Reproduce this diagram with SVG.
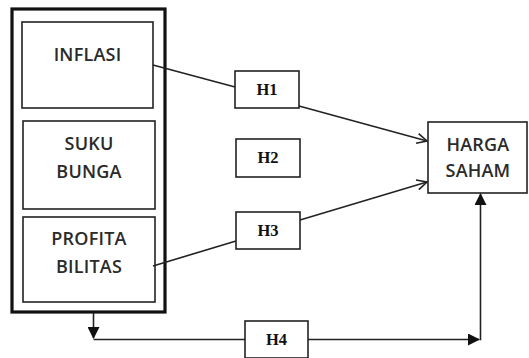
<svg xmlns="http://www.w3.org/2000/svg" width="529" height="358" viewBox="0 0 529 358">
<style>
.box{fill:#fff;stroke:#222;stroke-width:1.6}
.v{font-family:"Open Sans","Liberation Sans",sans-serif;font-size:18px;font-weight:600;fill:#2a2a2a;text-anchor:middle;letter-spacing:0.2px}
.h{font-family:"Liberation Serif",serif;font-size:16.5px;font-weight:bold;fill:#111;text-anchor:middle}
.ln{fill:none;stroke:#222;stroke-width:1.6}
</style>
<defs>
<marker id="open" viewBox="0 0 12 12" refX="11" refY="6" markerWidth="12" markerHeight="12" markerUnits="userSpaceOnUse" orient="auto">
<path d="M1,1 L11,6 L1,11" fill="none" stroke="#222" stroke-width="1.6"/>
</marker>
<marker id="solid" viewBox="0 0 12 12" refX="11" refY="6" markerWidth="12" markerHeight="12" markerUnits="userSpaceOnUse" orient="auto">
<path d="M0,0 L12,6 L0,12 Z" fill="#111"/>
</marker>
</defs>
<g id="group-outer">
<rect x="12" y="9" width="153" height="303" fill="#fff" stroke="#111" stroke-width="3.2"/>
</g>
<g id="inflasi">
<rect class="box" x="22" y="22" width="131" height="86"/>
<text class="v" x="87.5" y="61">INFLASI</text>
</g>
<g id="suku-bunga">
<rect class="box" x="23" y="121" width="132" height="88"/>
<text class="v" x="89" y="150">SUKU</text>
<text class="v" x="89" y="178">BUNGA</text>
</g>
<g id="profitabilitas">
<rect class="box" x="23" y="217" width="132" height="85"/>
<text class="v" x="89" y="245">PROFITA</text>
<text class="v" x="89" y="273">BILITAS</text>
</g>
<g id="h1">
<rect class="box" x="235" y="71" width="64" height="37"/>
<text class="h" x="267" y="95">H1</text>
</g>
<g id="h2">
<rect class="box" x="236" y="139" width="64" height="38"/>
<text class="h" x="268" y="163">H2</text>
</g>
<g id="h3">
<rect class="box" x="236" y="212" width="64" height="37"/>
<text class="h" x="268" y="236">H3</text>
</g>
<g id="h4">
<rect class="box" x="245" y="321" width="63" height="37"/>
<text class="h" x="276.5" y="345">H4</text>
</g>
<g id="harga-saham">
<rect class="box" x="428" y="122" width="99" height="71"/>
<text class="v" x="478" y="151">HARGA</text>
<text class="v" x="478" y="177">SAHAM</text>
</g>
<g id="connectors">
<line class="ln" x1="153" y1="65" x2="235" y2="87"/>
<line class="ln" x1="299" y1="106" x2="427" y2="141" marker-end="url(#open)"/>
<line class="ln" x1="153" y1="266" x2="236" y2="241"/>
<line class="ln" x1="300" y1="220" x2="427" y2="182" marker-end="url(#open)"/>
<line class="ln" x1="93.5" y1="313" x2="93.5" y2="338" marker-end="url(#solid)"/>
<line class="ln" x1="93.5" y1="339.5" x2="245" y2="339.5"/>
<line class="ln" x1="308" y1="339.5" x2="479" y2="339.5" marker-end="url(#solid)"/>
<line class="ln" x1="480.5" y1="340.3" x2="480.5" y2="194" marker-end="url(#solid)"/>
</g>
</svg>
